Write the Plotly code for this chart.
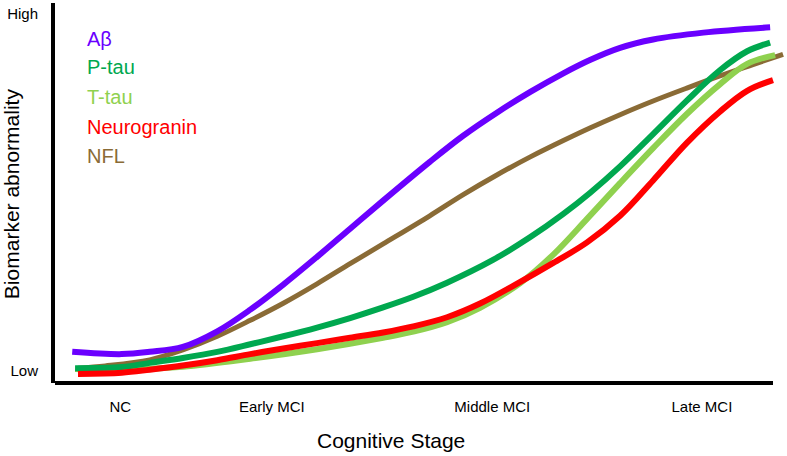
import plotly.graph_objects as go

# Cognitive stage axis: 0..100 arbitrary progression units
stage_labels = ["NC", "Early MCI", "Middle MCI", "Late MCI"]
stage_pos = [9.1, 30.2, 60.9, 90.1]

level_labels = ["Low", "High"]
level_pos = [3.2, 97.1]

abeta_x = [2.4, 9.3, 13.2, 17.8, 22.6, 27.2, 31.8, 36.5, 41.1, 45.7, 52.2, 56.8, 61.6, 66.2, 70.8, 74.5, 78.7, 83.3, 90.3, 99.6]
abeta_y = [8.2, 7.6, 8.2, 9.5, 13.6, 19.3, 25.9, 33.2, 40.6, 48.0, 58.2, 65.0, 71.2, 76.6, 81.5, 85.0, 88.2, 90.4, 92.2, 93.6]

ptau_x = [2.8, 9.3, 13.2, 17.8, 22.6, 27.2, 31.8, 36.5, 41.1, 45.7, 49.9, 54.6, 61.0, 66.2, 70.8, 74.5, 78.7, 83.3, 88.0, 92.6, 96.4, 99.6]
ptau_y = [3.9, 4.2, 5.3, 6.6, 8.2, 10.2, 12.3, 14.6, 17.1, 19.9, 22.7, 26.4, 32.4, 38.4, 44.5, 50.0, 57.0, 65.5, 74.3, 82.3, 87.3, 89.6]

ttau_x = [2.8, 9.3, 17.8, 27.2, 36.5, 45.7, 49.9, 54.6, 59.2, 64.8, 69.4, 74.1, 78.7, 83.3, 88.0, 92.6, 96.4, 100.3]
ttau_y = [3.7, 3.5, 4.3, 6.4, 8.9, 11.9, 13.5, 16.0, 19.8, 26.3, 33.8, 43.2, 52.6, 61.8, 70.8, 78.6, 84.0, 86.3]

ng_x = [3.2, 9.3, 13.2, 17.8, 22.6, 27.2, 31.8, 36.5, 41.1, 45.7, 49.9, 54.6, 59.2, 64.8, 69.4, 74.1, 78.7, 83.3, 88.0, 92.6, 96.4, 100.0]
ng_y = [2.4, 2.7, 3.5, 4.6, 6.0, 7.6, 9.1, 10.5, 11.9, 13.3, 14.9, 17.3, 20.9, 26.6, 31.6, 37.0, 44.0, 53.3, 63.2, 71.4, 76.9, 79.7]

nfl_x = [3.2, 7.0, 13.2, 17.8, 22.6, 27.2, 31.8, 36.5, 41.1, 45.7, 52.2, 56.8, 61.6, 66.2, 70.8, 74.5, 78.7, 83.3, 88.0, 92.6, 97.2, 101.4]
nfl_y = [3.9, 4.5, 6.1, 8.7, 12.3, 16.5, 21.0, 26.1, 31.4, 36.6, 44.0, 49.5, 54.8, 59.5, 63.8, 67.1, 70.6, 74.2, 77.6, 80.8, 83.8, 86.5]

series_names = ["A\u03b2", "P-tau", "T-tau", "Neurogranin", "NFL"]
series_colors = ["#6A00FF", "#00A84F", "#8FD14F", "#FF0000", "#8A6B36"]
legend_y = [90.5, 83.2, 75.3, 67.4, 59.7]

FONT = "Liberation Sans, Arial, sans-serif"

fig = go.Figure()
data = [(abeta_x, abeta_y), (ptau_x, ptau_y), (ttau_x, ttau_y), (ng_x, ng_y), (nfl_x, nfl_y)]
order = [4, 2, 1, 3, 0]
widths = [6, 6, 6, 6, 5]
for i in order:
    xs, ys = data[i]
    fig.add_trace(go.Scatter(
        x=xs, y=ys, mode="lines", name=series_names[i],
        line=dict(color=series_colors[i], width=widths[i], shape="spline", smoothing=1.0),
        showlegend=False, hoverinfo="skip"))

for name, col, ly in zip(series_names, series_colors, legend_y):
    fig.add_annotation(x=4.2, y=ly, xref="x", yref="y", text=name, showarrow=False,
                       xanchor="left", yanchor="middle",
                       font=dict(family=FONT, size=20, color=col))

# axis titles
fig.add_annotation(x=46.8, y=0, xref="x", yref="paper", yshift=-57, text="Cognitive Stage",
                   showarrow=False, xanchor="center", yanchor="middle",
                   font=dict(family=FONT, size=21, color="black"))
fig.add_annotation(x=0, y=49.7, xref="paper", yref="y", xshift=-44, text="Biomarker abnormality",
                   showarrow=False, textangle=-90, xanchor="center", yanchor="middle",
                   font=dict(family=FONT, size=21, color="black"))

# bottom axis line (ends before the right edge)
fig.add_shape(type="line", xref="x", yref="paper", x0=0, x1=100, y0=0, y1=0,
              line=dict(color="black", width=4))

fig.update_layout(
    width=787, height=456,
    margin=dict(l=55, r=0, t=3, b=73),
    paper_bgcolor="white", plot_bgcolor="white",
    font=dict(family=FONT, color="black"),
    xaxis=dict(range=[0, 101.95], showgrid=False, zeroline=False, showline=False,
               tickmode="array", tickvals=stage_pos, ticktext=stage_labels,
               ticks="outside", ticklen=10, tickcolor="rgba(0,0,0,0)",
               tickfont=dict(family=FONT, size=15, color="black")),
    yaxis=dict(range=[0, 100], showgrid=False, zeroline=False, showline=True,
               linecolor="black", linewidth=4,
               tickmode="array", tickvals=level_pos, ticktext=level_labels,
               ticks="outside", ticklen=10, tickcolor="rgba(0,0,0,0)",
               tickfont=dict(family=FONT, size=15, color="black")),
)

fig.write_html("out.html", config={"displayModeBar": False},
               post_script="document.body.style.margin='0';document.body.style.overflow='hidden';")
